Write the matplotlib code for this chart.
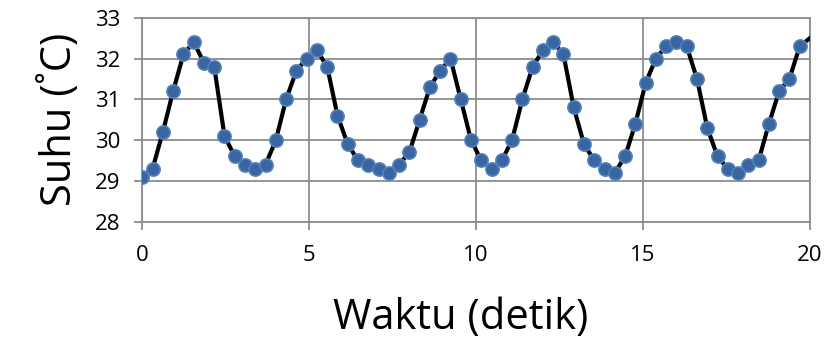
import numpy as np
import matplotlib
matplotlib.use("Agg")
import matplotlib.pyplot as plt

# Temperature readings sampled at a fixed interval
dt = 20 / 65
temps = [
    29.1, 29.3, 30.2, 31.2, 32.1, 32.4, 31.9, 31.8, 30.1, 29.6,
    29.4, 29.3, 29.4, 30.0, 31.0, 31.7, 32.0, 32.2, 31.8, 30.6,
    29.9, 29.5, 29.4, 29.3, 29.2, 29.4, 29.7, 30.5, 31.3, 31.7,
    32.0, 31.0, 30.0, 29.5, 29.3, 29.5, 30.0, 31.0, 31.8, 32.2,
    32.4, 32.1, 30.8, 29.9, 29.5, 29.3, 29.2, 29.6, 30.4, 31.4,
    32.0, 32.3, 32.4, 32.3, 31.5, 30.3, 29.6, 29.3, 29.2, 29.4,
    29.5, 30.4, 31.2, 31.5, 32.3, 32.5,
]
time = np.arange(len(temps)) * dt

x_ticks = [0, 5, 10, 15, 20]
y_ticks = [28, 29, 30, 31, 32, 33]

plt.rcParams['font.family'] = ['Open Sans', 'DejaVu Sans']

fig = plt.figure(figsize=(8.26, 3.41), dpi=100)
ax = fig.add_axes([0.1723, 0.350, 0.8083, 0.598])

grid_c = '#8c8c8c'
ax.plot(time, temps, color='black', lw=3.0, zorder=3,
        marker='o', markersize=9.5, markerfacecolor='#3a65a0',
        markeredgecolor='#4f81bd', markeredgewidth=1.2,
        markevery=slice(0, len(temps) - 1))

ax.set_xlim(0, 20)
ax.set_ylim(28, 33)
ax.set_xticks(x_ticks)
ax.set_yticks(y_ticks)
ax.grid(True, color=grid_c, lw=1.3)
ax.set_axisbelow(True)
for s in ax.spines.values():
    s.set_color(grid_c)
    s.set_linewidth(1.3)

ax.tick_params(axis='both', which='major', length=6, width=1.3,
               color=grid_c, labelsize=16, labelcolor='black')
ax.tick_params(axis='y', pad=10)
ax.tick_params(axis='x', pad=11)

ax.set_xlabel('Waktu (detik)', fontsize=30)
ax.xaxis.set_label_coords(0.477, -0.37, transform=ax.transAxes)
ax.xaxis.label.set_verticalalignment('top')
ax.set_ylabel('Suhu (˚C)', fontsize=30, labelpad=10)

fig.savefig('out.png', dpi=100)
